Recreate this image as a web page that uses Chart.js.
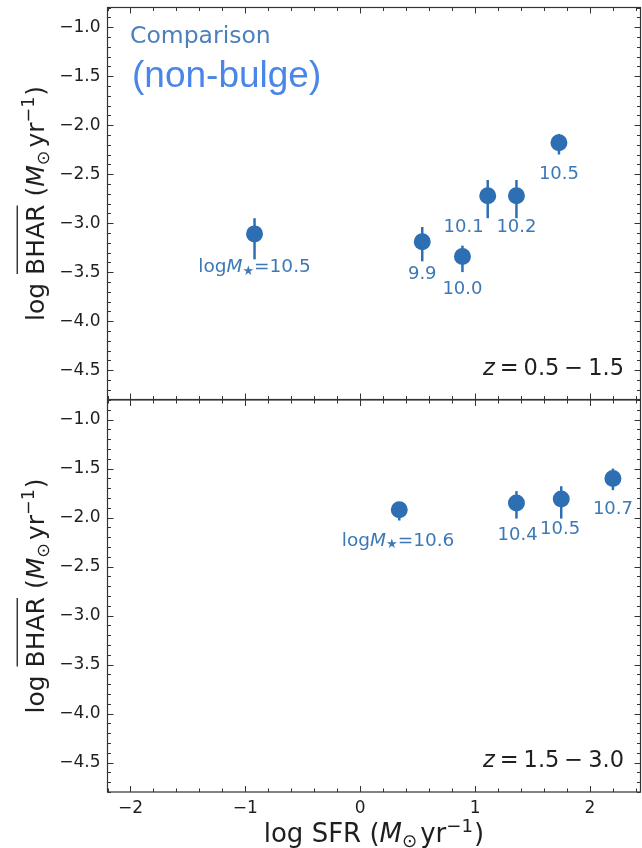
<!DOCTYPE html>
<html>
<head>
<meta charset="utf-8">
<script src="https://cdn.jsdelivr.net/npm/chart.js@4.4.1/dist/chart.umd.min.js"></script>
<style>
  html, body { margin: 0; padding: 0; background: #fff; }
  #wrap { position: relative; width: 642px; height: 848px; overflow: hidden; }
  canvas { position: absolute; left: 0; }
</style>
</head>
<body>
<div id="wrap">
  <canvas id="topPanel" width="642" height="400" style="top:0"></canvas>
  <canvas id="bottomPanel" width="642" height="448" style="top:400px"></canvas>
</div>
<script>
(() => {
    "use strict";

    // axis ticks
    const xTicks = [-2, -1, 0, 1, 2];
    const yTicks = [-1.0, -1.5, -2.0, -2.5, -3.0, -3.5, -4.0, -4.5];

    // z = 0.5 - 1.5
    const lowSfr = [-0.92, 0.54, 0.89, 1.11, 1.36, 1.73];
    const lowBhar = [-3.11, -3.19, -3.34, -2.72, -2.72, -2.18];
    const lowErrUp = [0.16, 0.15, 0.11, 0.16, 0.16, 0.09];
    const lowErrDown = [0.26, 0.20, 0.16, 0.23, 0.23, 0.12];
    const lowMass = ["10.5", "9.9", "10.0", "10.1", "10.2", "10.5"];
    const lowLabelX = [-0.92, 0.54, 0.89, 0.90, 1.36, 1.73];
    const lowLabelY = [-3.45, -3.52, -3.68, -3.04, -3.04, -2.50];

    // z = 1.5 - 3.0
    const highSfr = [0.34, 1.36, 1.75, 2.20];
    const highBhar = [-1.92, -1.85, -1.81, -1.60];
    const highErrUp = [0.08, 0.12, 0.13, 0.10];
    const highErrDown = [0.11, 0.16, 0.20, 0.12];
    const highMass = ["10.6", "10.4", "10.5", "10.7"];
    const highLabelX = [0.33, 1.37, 1.74, 2.20];
    const highLabelY = [-2.24, -2.18, -2.12, -1.92];

    const C0 = "#2e6fb3";
    const LABEL = "#3d78b6";
    const INK = "#1f1f1f";
    const FONT = "DejaVu Sans";

    const minus = s => s.replace("-", "\u2212");

    // draws a list of text pieces side by side (mathtext-ish)
    function drawRich(ctx, parts, x, y, align) {
        let total = 0;
        parts.forEach(p => {
            ctx.font = (p.italic ? "oblique " : "") + p.size + "px " + FONT;
            p.w = ctx.measureText(p.t).width;
            total += p.w + (p.gap || 0);
        });
        let cx = align === "center" ? x - total / 2 : align === "right" ? x - total : x;
        parts.forEach(p => {
            ctx.font = (p.italic ? "oblique " : "") + p.size + "px " + FONT;
            ctx.fillText(p.t, cx, y + (p.dy || 0));
            if (p.over) {
                ctx.save();
                ctx.lineWidth = 1.3;
                ctx.strokeStyle = ctx.fillStyle;
                ctx.beginPath();
                ctx.moveTo(cx + 1, y - p.size * 1.05);
                ctx.lineTo(cx + p.w - 1, y - p.size * 1.05);
                ctx.stroke();
                ctx.restore();
            }
            cx += p.w + (p.gap || 0);
        });
    }

    function unitParts(size, lead) {
        return lead.concat([
            {t: "(", size},
            {t: "M", size, italic: true},
            {t: "\u2299", size: size * 0.7, dy: size * 0.2, gap: 3},
            {t: "yr", size},
            {t: "\u22121", size: size * 0.7, dy: -size * 0.38, gap: 1},
            {t: ")", size}
        ]);
    }

    function decor(panel) {
        return {
            id: "decor",
            beforeDatasetsDraw(chart) {
                const {ctx, scales: {x, y}} = chart;
                ctx.save();
                ctx.strokeStyle = C0;
                ctx.lineWidth = 2.5;
                panel.sfr.forEach((v, i) => {
                    const px = x.getPixelForValue(v);
                    ctx.beginPath();
                    ctx.moveTo(px, y.getPixelForValue(panel.bhar[i] + panel.up[i]));
                    ctx.lineTo(px, y.getPixelForValue(panel.bhar[i] - panel.down[i]));
                    ctx.stroke();
                });
                ctx.restore();
            },
            afterDraw(chart) {
                const {ctx, chartArea: a, scales: {x, y}} = chart;
                ctx.save();

                // frame and inward ticks on all four sides
                ctx.strokeStyle = "#333";
                ctx.lineWidth = 1.2;
                ctx.strokeRect(a.left, a.top, a.right - a.left, a.bottom - a.top);
                ctx.lineWidth = 1;
                ctx.beginPath();
                for (let v = -2.2; v <= 2.45; v += 0.2) {
                    const px = Math.round(x.getPixelForValue(v)) + 0.5;
                    const major = xTicks.some(t => Math.abs(t - v) < 1e-6);
                    const len = major ? 6 : 3.5;
                    ctx.moveTo(px, a.bottom); ctx.lineTo(px, a.bottom - len);
                    ctx.moveTo(px, a.top); ctx.lineTo(px, a.top + len);
                }
                for (let v = -4.8; v <= -0.79; v += 0.1) {
                    const py = Math.round(y.getPixelForValue(v)) + 0.5;
                    const major = yTicks.some(t => Math.abs(t - v) < 1e-6);
                    const len = major ? 6 : 3.5;
                    ctx.moveTo(a.left, py); ctx.lineTo(a.left + len, py);
                    ctx.moveTo(a.right, py); ctx.lineTo(a.right - len, py);
                }
                ctx.stroke();

                // y axis title
                ctx.fillStyle = INK;
                ctx.textBaseline = "alphabetic";
                ctx.save();
                ctx.translate(43.5, (a.top + a.bottom) / 2);
                ctx.rotate(-Math.PI / 2);
                drawRich(ctx, unitParts(25, [
                    {t: "log ", size: 25},
                    {t: "BHAR", size: 25, over: true},
                    {t: " ", size: 25}
                ]), 0, 0, "center");
                ctx.restore();

                // x axis title
                if (panel.xTitle) {
                    drawRich(ctx, unitParts(26, [
                        {t: "log SFR ", size: 26}
                    ]), (a.left + a.right) / 2, 442, "center");
                }

                // redshift tag
                drawRich(ctx, [
                    {t: "z", size: 22.5, italic: true, gap: 5},
                    {t: "=", size: 22.5, gap: 5},
                    {t: panel.zLo, size: 22.5, gap: 5},
                    {t: "\u2212", size: 22.5, gap: 5},
                    {t: panel.zHi, size: 22.5}
                ], 624, a.bottom - 25, "right");

                // stellar mass labels
                ctx.fillStyle = LABEL;
                ctx.textBaseline = "middle";
                panel.mass.forEach((m, i) => {
                    const px = x.getPixelForValue(panel.labX[i]);
                    const py = y.getPixelForValue(panel.labY[i]);
                    const parts = i === 0 ? [
                        {t: "log", size: 18.5},
                        {t: "M", size: 18.5, italic: true},
                        {t: "\u2605", size: 13, dy: 4},
                        {t: "=" + m, size: 18.5}
                    ] : [{t: m, size: 18}];
                    drawRich(ctx, parts, px, py, "center");
                });

                if (panel.legend) {
                    ctx.textBaseline = "middle";
                    ctx.fillStyle = "#4b80ba";
                    ctx.font = "23.5px " + FONT;
                    ctx.fillText("Comparison", 130, 37);
                    ctx.fillStyle = "#4a86e8";
                    ctx.font = "37px 'Liberation Sans'";
                    ctx.fillText("(non-bulge)", 132, 77);
                }
                ctx.restore();
            }
        };
    }

    function makePanel(id, panel) {
        return new Chart(document.getElementById(id), {
            type: "scatter",
            data: {
                datasets: [{
                    data: panel.sfr.map((v, i) => ({x: v, y: panel.bhar[i]})),
                    backgroundColor: C0,
                    borderColor: C0,
                    borderWidth: 0,
                    pointRadius: 8.5,
                    pointHoverRadius: 8.5
                }]
            },
            options: {
                responsive: false,
                animation: false,
                devicePixelRatio: 1,
                events: [],
                layout: {
                    autoPadding: false,
                    padding: {top: panel.xTitle ? 0 : 7.5, right: 1.5, bottom: panel.xTitle ? 0 : 0.5, left: 0}
                },
                plugins: {legend: {display: false}, tooltip: {enabled: false}},
                scales: {
                    x: {
                        type: "linear",
                        min: -2.2,
                        max: 2.44,
                        display: panel.xTitle,
                        grid: {display: false, drawTicks: false},
                        border: {display: false},
                        afterBuildTicks: s => { s.ticks = xTicks.map(v => ({value: v})); },
                        afterFit: s => {
                            s.height = panel.xTitle ? 56 : 0;
                            s.paddingLeft = 0;
                            s.paddingRight = 0;
                        },
                        ticks: {
                            font: {family: FONT, size: 17},
                            color: INK,
                            padding: 6,
                            maxRotation: 0,
                            callback: v => minus(String(v))
                        }
                    },
                    y: {
                        type: "linear",
                        min: -4.8,
                        max: -0.8,
                        grid: {display: false, drawTicks: false},
                        border: {display: false},
                        afterBuildTicks: s => { s.ticks = yTicks.map(v => ({value: v})); },
                        afterFit: s => {
                            s.width = 107.5;
                            s.paddingTop = 0;
                            s.paddingBottom = 0;
                        },
                        ticks: {
                            font: {family: FONT, size: 17},
                            color: INK,
                            padding: 7,
                            callback: v => minus(v.toFixed(1))
                        }
                    }
                }
            },
            plugins: [decor(panel)]
        });
    }

    makePanel("topPanel", {
        sfr: lowSfr, bhar: lowBhar, up: lowErrUp, down: lowErrDown,
        mass: lowMass, labX: lowLabelX, labY: lowLabelY,
        zLo: "0.5", zHi: "1.5", legend: true, xTitle: false
    });
    makePanel("bottomPanel", {
        sfr: highSfr, bhar: highBhar, up: highErrUp, down: highErrDown,
        mass: highMass, labX: highLabelX, labY: highLabelY,
        zLo: "1.5", zHi: "3.0", legend: false, xTitle: true
    });
})();
</script>
</body>
</html>
